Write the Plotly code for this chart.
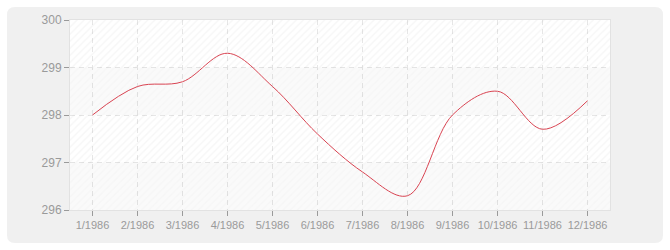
import plotly.graph_objects as go

months = ["1/1986", "2/1986", "3/1986", "4/1986", "5/1986", "6/1986",
          "7/1986", "8/1986", "9/1986", "10/1986", "11/1986", "12/1986"]
values = [298.0, 298.6, 298.7, 299.3, 298.6, 297.6,
          296.8, 296.3, 298.0, 298.5, 297.7, 298.3]
y_ticks = [296, 297, 298, 299, 300]

FONT = "Liberation Sans"
TXT = "#9a9a9a"

fig = go.Figure()

# background bands with diagonal hatching (hidden base x axis, semi-transparent)
for lo, hi in zip(y_ticks[:-1], y_ticks[1:]):
    strong = (lo % 2 == 1)
    fig.add_trace(go.Scatter(
        x=[0, 1, 1, 0, 0], y=[lo, lo, hi, hi, lo], xaxis="x",
        mode="lines", line=dict(width=0), fill="toself",
        fillcolor="rgba(0,0,0,0)" if strong else "rgba(0,0,0,0.02)",
        fillpattern=dict(shape="/",
                         fgcolor="rgba(0,0,0,0.07)" if strong else "rgba(0,0,0,0.035)",
                         bgcolor="rgba(0,0,0,0)" if strong else "rgba(0,0,0,0.02)",
                         size=5, solidity=0.25),
        hoverinfo="skip", showlegend=False))

fig.add_trace(go.Scatter(
    x=months, y=values, mode="lines", xaxis="x2",
    line=dict(color="#d94452", width=1, shape="spline", smoothing=1),
    showlegend=False))

# rounded outer panel
px0, px1 = (7 - 70) / 540, (663 - 70) / 540
py0, py1 = (210 - 243) / 190, (210 - 7) / 190
rx, ry = 8 / 540, 8 / 190
path = (f"M{px0+rx},{py0} L{px1-rx},{py0} Q{px1},{py0} {px1},{py0+ry} "
        f"L{px1},{py1-ry} Q{px1},{py1} {px1-rx},{py1} L{px0+rx},{py1} "
        f"Q{px0},{py1} {px0},{py1-ry} L{px0},{py0+ry} Q{px0},{py0} {px0+rx},{py0} Z")

fig.update_layout(
    width=670, height=250,
    margin=dict(l=70, r=60, t=20, b=40),
    paper_bgcolor="#ffffff", plot_bgcolor="#ffffff",
    font=dict(family=FONT, size=11, color=TXT),
    shapes=[dict(type="path", xref="paper", yref="paper", path=path,
                 fillcolor="#f0f0f0", line=dict(width=0), layer="below"),
            dict(type="rect", xref="paper", yref="paper", x0=0, x1=1, y0=0, y1=1,
                 fillcolor="#ffffff", line=dict(width=0), layer="below")],
    xaxis=dict(range=[0, 1], visible=False, showgrid=False, zeroline=False),
    xaxis2=dict(type="category", overlaying="x", side="bottom", anchor="y",
                range=[-0.5, 11.5], showgrid=True,
                gridcolor="#e6e6e6", griddash="5px,4px", gridwidth=1,
                ticks="outside", ticklen=5, tickcolor="#9a9a9a",
                showline=True, linecolor="#e2e2e2", mirror=True,
                zeroline=False, tickfont=dict(color=TXT, size=11)),
    yaxis=dict(range=[296, 300], tickvals=y_ticks, showgrid=True,
               gridcolor="#e6e6e6", griddash="5px,4px", gridwidth=1,
               ticks="outside", ticklen=5, tickcolor="#9a9a9a",
               showline=True, linecolor="#e2e2e2", mirror=True,
               zeroline=False, tickfont=dict(color=TXT, size=12)),
)

fig.write_html("out.html")
